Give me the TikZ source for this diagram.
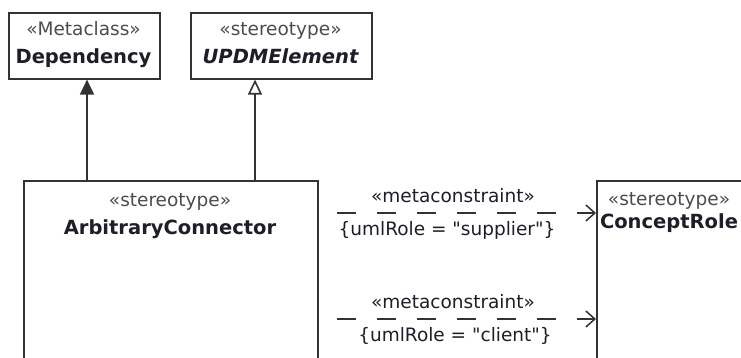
\documentclass[tikz,border=0pt]{standalone}
\usepackage{fontspec}
\newfontfamily\uf{DejaVu Sans}
\usetikzlibrary{arrows.meta}
\definecolor{ln}{HTML}{333333}
\definecolor{tx}{HTML}{1E1E28}
\definecolor{st}{HTML}{4C4C4C}
\begin{document}
\begin{tikzpicture}[x=1pt,y=-1pt,
  box/.style={draw=ln,line width=1.6pt,inner sep=0pt,anchor=north west,fill=white},
  ster/.style={font=\uf\fontsize{18.5}{22}\selectfont,text=st,inner sep=0pt,anchor=base},
  nm/.style={font=\uf\fontsize{19.5}{23}\selectfont\bfseries,text=tx,inner sep=0pt,anchor=base},
  lbl/.style={font=\uf\fontsize{18.5}{22}\selectfont,text=tx,inner sep=0pt,anchor=base},
  gen/.style={draw=ln,line width=1.6pt,-{Triangle[open,length=15pt,width=14pt,line width=1.6pt]}},
  ext/.style={draw=ln,line width=1.6pt,-{Triangle[length=15pt,width=14pt,fill=ln]}},
  mcon/.style={draw=ln,line width=1.5pt,dash pattern=on 19pt off 21pt,
    -{Straight Barb[length=9pt,width=16pt,line width=1.5pt]}}]
\useasboundingbox[fill=white] (0,0) rectangle (741,358);
% boxes
\node[box,minimum width=151pt,minimum height=66pt] (Dep) at (8,12) {};
\node[box,minimum width=181pt,minimum height=66pt] (UPDM) at (190,12) {};
\node[box,minimum width=294pt,minimum height=240pt] (AC) at (23,180) {};
\node[box,minimum width=149pt,minimum height=240pt] (CR) at (596,180) {};
% texts
\node[ster] (DepS) at (83.5,36) {«Metaclass»};
\node[nm] (DepN) at (83.5,64) {Dependency};
\node[ster] (UPDMS) at (280.5,36) {«stereotype»};
\node[nm] (UPDMN) at (280.5,64) {\itshape UPDMElement};
\node[ster] (ACS) at (170,206) {«stereotype»};
\node[nm] (ACN) at (170,234) {ArbitraryConnector};
\node[ster] (CRS) at (669,205) {«stereotype»};
\node[nm] (CRN) at (669,228) {ConceptRole};
% generalization / extension
\coordinate (e1) at (87,180);
\coordinate (g1) at (255,180);
\draw[ext] (e1 |- AC.north) -- (e1 |- Dep.south);
\draw[gen] (g1 |- AC.north) -- (g1 |- UPDM.south);
% metaconstraints
\coordinate (s1) at (337,213);
\coordinate (s2) at (337,319);
\draw[mcon] (s1) -- (s1 -| CR.west);
\draw[mcon] (s2) -- (s2 -| CR.west);
\node[lbl] (m1) at (453,202) {«metaconstraint»};
\node[lbl] (r1) at (447,235) {\{umlRole = "supplier"\}};
\node[lbl] (m2) at (453,308) {«metaconstraint»};
\node[lbl] (r2) at (455,341) {\{umlRole = "client"\}};
\end{tikzpicture}
\end{document}
